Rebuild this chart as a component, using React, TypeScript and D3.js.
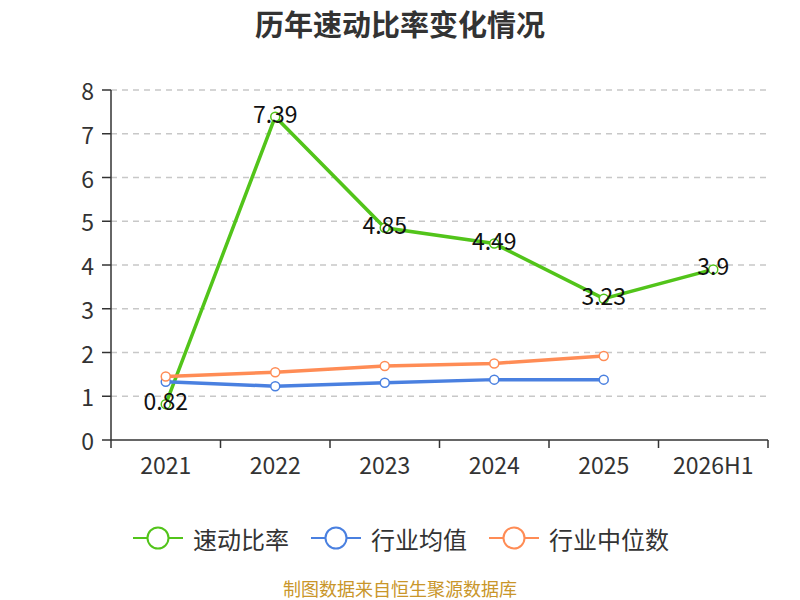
import React, {JSX} from "react";
import * as d3 from "d3";

const categories = ["2021", "2022", "2023", "2024", "2025", "2026H1"];
const quickRatio = [0.82, 7.39, 4.85, 4.49, 3.23, 3.9];
const industryMean = [1.33, 1.23, 1.31, 1.38, 1.38];
const industryMedian = [1.45, 1.55, 1.69, 1.75, 1.92];
const yTicks = [0, 1, 2, 3, 4, 5, 6, 7, 8];

const seriesNames = ["速动比率", "行业均值", "行业中位数"];
const colors = ["#52c41a", "#4a80e0", "#ff8c55"];

const FONT = "'Noto Sans CJK SC', 'Noto Sans', sans-serif";

const App = (): JSX.Element => {
    const width = 800
    const height = 600
    const marginLeft = 111
    const marginRight = 32
    const marginTop = 90
    const marginBottom = 160
    const x = d3.scaleBand(categories, [marginLeft, width - marginRight]);
    const y = d3.scaleLinear([0, 8], [height - marginBottom, marginTop]);
    const cx = (i: number) => (x(categories[i]) as number) + x.bandwidth() / 2;
    const line = d3.line<number>((d, i) => cx(i), (d) => y(d));
    const series = [quickRatio, industryMean, industryMedian];
    const boundaries = categories.map((c) => x(c) as number).concat(width - marginRight);

    const legendStart = 133;
    const legendStep = 178;
    const legendY = 538;

    return (
        <svg width={width} height={height} style={{position: "absolute", left: 0, top: 0}} fontFamily={FONT}>
            <rect width={width} height={height} fill="white"/>
            <text x={400} y={23} textAnchor="middle" dominantBaseline="central" fontSize={29} fontWeight="bold" fill="#333">历年速动比率变化情况</text>
            <g>
                {yTicks.slice(1).map((t) => (
                    <line key={t} x1={marginLeft} x2={width - marginRight} y1={y(t)} y2={y(t)}
                          stroke="#c8c8c8" strokeDasharray="6,5" strokeWidth={1.5}/>
                ))}
            </g>
            <g stroke="#333" strokeWidth={1.5}>
                <line x1={marginLeft} x2={marginLeft} y1={y(8)} y2={y(0)}/>
                <line x1={marginLeft} x2={width - marginRight} y1={y(0)} y2={y(0)}/>
                {yTicks.map((t) => (
                    <line key={t} x1={marginLeft - 9} x2={marginLeft} y1={y(t)} y2={y(t)}/>
                ))}
                {boundaries.map((b, i) => (
                    <line key={i} x1={b} x2={b} y1={y(0)} y2={y(0) + 8}/>
                ))}
            </g>
            <g fontSize={23} fill="#333">
                {yTicks.map((t) => (
                    <text key={t} x={marginLeft - 17} y={y(t)} textAnchor="end" dominantBaseline="central">{t}</text>
                ))}
                {categories.map((c, i) => (
                    <text key={c} x={cx(i)} y={y(0) + 24} textAnchor="middle" dominantBaseline="central">{c}</text>
                ))}
            </g>
            {series.map((s, k) => (
                <g key={k}>
                    <path d={line(s) as string} fill="none" stroke={colors[k]} strokeWidth={3.5}/>
                    {s.map((d, i) => (
                        <circle key={i} cx={cx(i)} cy={y(d)} r={4.5} fill="white" stroke={colors[k]} strokeWidth={1.5}/>
                    ))}
                </g>
            ))}
            <g fontSize={23} fill="#111">
                {quickRatio.map((d, i) => (
                    <text key={i} x={cx(i)} y={y(d) - 4} textAnchor="middle" dominantBaseline="central">{d}</text>
                ))}
            </g>
            <g>
                {seriesNames.map((n, k) => {
                    const lx = legendStart + legendStep * k;
                    return (
                        <g key={n}>
                            <line x1={lx} x2={lx + 50} y1={legendY} y2={legendY} stroke={colors[k]} strokeWidth={2}/>
                            <circle cx={lx + 25} cy={legendY} r={10.5} fill="white" stroke={colors[k]} strokeWidth={2}/>
                            <text x={lx + 60} y={legendY} fontSize={24} fill="#333" dominantBaseline="central">{n}</text>
                        </g>
                    );
                })}
            </g>
            <text x={400} y={588} textAnchor="middle" dominantBaseline="central" fontSize={18} fill="#c9962a">制图数据来自恒生聚源数据库</text>
        </svg>
    )
}

export default App;
